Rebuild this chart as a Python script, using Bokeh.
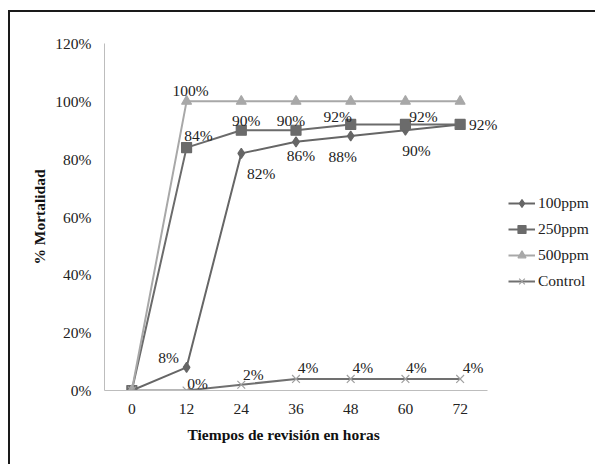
from bokeh.plotting import figure
from bokeh.models import (ColumnDataSource, FixedTicker, PrintfTickFormatter, Legend,
                          LegendItem, Range1d, Title)
from bokeh.embed import file_html
from bokeh.resources import INLINE

# ---- data ----
hours = [0, 12, 24, 36, 48, 60, 72]
s100 = [0, 8, 82, 86, 88, 90, 92]
s250 = [0, 84, 90, 90, 92, 92, 92]
s500 = [0, 100, 100, 100, 100, 100, 100]
control = [0, 0, 2, 4, 4, 4, 4]
series_names = ["100ppm", "250ppm", "500ppm", "Control"]
y_ticks = [0, 20, 40, 60, 80, 100, 120]
x_title = "Tiempos de revisión en horas"
y_title = "% Mortalidad"

# which points carry a data label (index lists) and their pixel offsets (style)
lab100 = [1, 2, 3, 4, 5]
off100 = [(-18, 10), (20, -20), (5, -14), (-8, -20), (11, -20)]
lab250 = [1, 2, 3, 4, 5, 6]
off250 = [(12, 12), (5, 10), (-5, 10), (-13, 8), (18, 8), (23, 0)]
lab500 = [1]
off500 = [(4, 11)]
labc = [1, 2, 3, 4, 5, 6]
offc = [(11, 7), (12, 10), (12, 11), (12, 11), (11, 11), (13, 11)]

SERIF = "Liberation Serif"
FS = "15.5px"

# page geometry: host border at x=8, y=10 (2px), canvas starts at (10, 12)
OX, OY = 10, 12
W, H = 597 - OX, 466 - OY
FL, FT, FB = 104 - OX, 43 - OY, 390 - OY   # frame left / top / bottom in canvas px
PX_X = 383 / 84.0                          # px per hour  (-6..78 spans 383 px)
x_end = -6 + (W - FL) / PX_X

p = figure(width=W, height=H, output_backend="svg", toolbar_location=None,
           x_range=Range1d(-6, x_end), y_range=Range1d(0, 120),
           min_border_left=FL, min_border_right=0, min_border_top=FT,
           min_border_bottom=H - FB)
p.styles = {"border-top": "2px solid #1a1a1a", "border-left": "2px solid #1a1a1a",
            "margin-left": "8px", "margin-top": "10px"}
p.outline_line_color = None
p.xgrid.grid_line_color = None
p.ygrid.grid_line_color = None

for ax in (p.xaxis[0], p.yaxis[0]):
    ax.axis_line_color = "#bdbdbd"
    ax.axis_line_width = 1
    ax.major_tick_line_color = None
    ax.minor_tick_line_color = None
    ax.major_tick_out = 0
    ax.major_tick_in = 0
    ax.minor_tick_out = 0
    ax.minor_tick_in = 0
    ax.major_label_text_font = SERIF
    ax.major_label_text_font_size = FS
    ax.major_label_text_color = "#222222"
    ax.axis_label_text_font = SERIF
    ax.axis_label_text_font_size = "15.5px"
    ax.axis_label_text_font_style = "bold"
    ax.axis_label_text_color = "#111111"

p.xaxis.ticker = FixedTicker(ticks=hours)
p.yaxis.ticker = FixedTicker(ticks=y_ticks)
p.xaxis.bounds = (-6, 78)
p.yaxis.formatter = PrintfTickFormatter(format="%d%%")
p.yaxis.axis_label = y_title
p.xaxis.major_label_standoff = 13
p.yaxis.major_label_standoff = 13
p.yaxis.axis_label_standoff = 4

# x-axis title, placed under the axis and aligned like the reference
p.add_layout(Title(text=x_title, align="left", offset=83, standoff=14,
                   text_font=SERIF, text_font_size="15.5px", text_font_style="bold",
                   text_color="#111111"), "below")

styles = [
    dict(data=s100, color="#666666", marker="diamond", size=10, mfill="#666666", mline="#666666"),
    dict(data=s250, color="#6b6b6b", marker="square", size=10, mfill="#6b6b6b", mline="#6b6b6b"),
    dict(data=s500, color="#a8a8a8", marker="triangle", size=10, mfill="#a8a8a8", mline="#a8a8a8"),
    dict(data=control, color="#707070", marker="x", size=11, mfill=None, mline="#a0a0a0"),
]

items = []
for name, st in zip(series_names, styles):
    src = ColumnDataSource(dict(x=hours, y=st["data"]))
    r1 = p.line("x", "y", source=src, line_color=st["color"], line_width=2)
    r2 = p.scatter("x", "y", source=src, marker=st["marker"], size=st["size"],
                   fill_color=st["mfill"], line_color=st["mline"], line_width=1.2)
    items.append(LegendItem(label=name, renderers=[r1, r2]))

def add_labels(data, idx, offs):
    src = ColumnDataSource(dict(
        x=[hours[i] for i in idx], y=[data[i] for i in idx],
        t=[f"{data[i]}%" for i in idx],
        dx=[o[0] for o in offs], dy=[-o[1] for o in offs]))
    p.text("x", "y", text="t", source=src, x_offset="dx", y_offset="dy",
           text_font=SERIF, text_font_size=FS, text_color="#222222",
           text_align="center", text_baseline="middle")

add_labels(s100, lab100, off100)
add_labels(s250, lab250, off250)
add_labels(s500, lab500, off500)
add_labels(control, labc, offc)

legend = Legend(items=items, location=(404, 99), orientation="vertical",
                label_text_font=SERIF, label_text_font_size=FS, label_text_color="#222222",
                glyph_width=27, glyph_height=20, label_height=20, label_standoff=3,
                spacing=6, padding=0, margin=0, border_line_color=None,
                background_fill_alpha=0)
p.add_layout(legend, "center")

open("out.html", "w").write(file_html(p, INLINE))
